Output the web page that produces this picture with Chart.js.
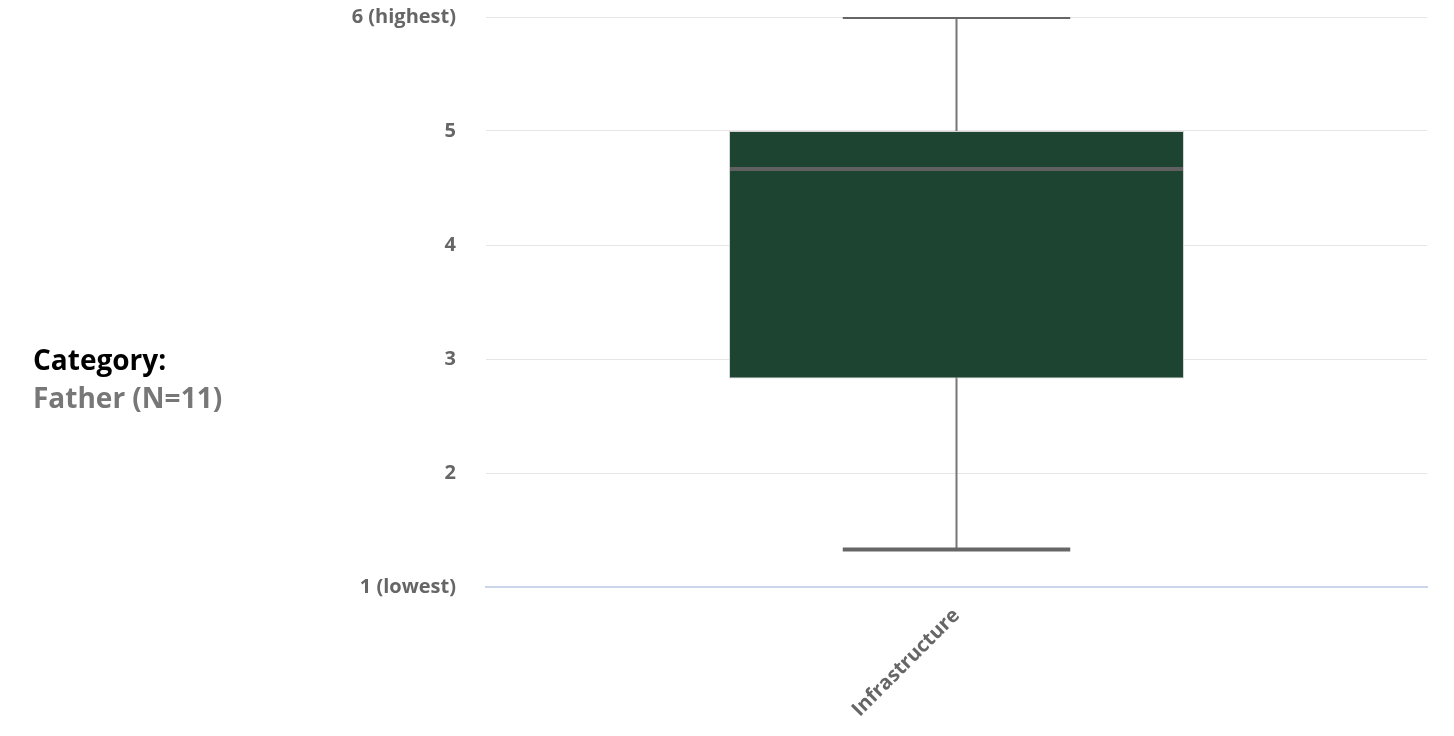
<!DOCTYPE html>
<html>
<head>
<meta charset="utf-8">
<script src="https://cdn.jsdelivr.net/npm/chart.js@4.4.1/dist/chart.umd.min.js"></script>
<style>
  html, body { margin: 0; padding: 0; background: #fff; }
  #wrap { position: relative; width: 1454px; height: 736px; }
  #c { position: absolute; left: 0; top: 0; }
  #side { position: absolute; left: 33px; top: 340px; font-family: "Open Sans", sans-serif; font-weight: 700; font-size: 28px; line-height: 38px; white-space: nowrap; }
  #side .k { color: #000; }
  #side .v { color: #777; }
</style>
</head>
<body>
<div id="wrap">
  <canvas id="c" width="1454" height="736"></canvas>
  <div id="side"><div class="k">Category:</div><div class="v">Father (N=11)</div></div>
</div>
<script>
const categories = ['Infrastructure'];
const whiskerLow = [1.33];
const q1 = [2.83];
const median = [4.67];
const q3 = [5.0];
const whiskerHigh = [6.0];
const yTickLabels = ['1 (lowest)', '2', '3', '4', '5', '6 (highest)'];

const FONT = '"Open Sans", sans-serif';

const whiskerPlugin = {
  id: 'whiskers',
  beforeDatasetsDraw(chart) {
    const { ctx, chartArea, scales: { y } } = chart;
    const meta = chart.getDatasetMeta(0);
    ctx.save();
    ctx.beginPath();
    ctx.rect(chartArea.left, chartArea.top, chartArea.right - chartArea.left, chartArea.bottom - chartArea.top);
    ctx.clip();
    meta.data.forEach((bar, i) => {
      ctx.strokeStyle = '#777777';
      ctx.lineWidth = 2;
      ctx.beginPath();
      ctx.moveTo(bar.x, y.getPixelForValue(whiskerHigh[i]));
      ctx.lineTo(bar.x, y.getPixelForValue(whiskerLow[i]));
      ctx.stroke();
    });
    ctx.restore();
  },
  afterDatasetsDraw(chart) {
    const { ctx, chartArea, scales: { y } } = chart;
    const meta = chart.getDatasetMeta(0);
    ctx.save();
    ctx.beginPath();
    ctx.rect(chartArea.left, chartArea.top, chartArea.right - chartArea.left, chartArea.bottom - chartArea.top);
    ctx.clip();
    meta.data.forEach((bar, i) => {
      const half = bar.width / 2;
      const capHalf = half / 2;
      ctx.strokeStyle = '#666666';
      ctx.lineWidth = 4;
      [whiskerHigh[i], whiskerLow[i]].forEach(v => {
        const py = y.getPixelForValue(v);
        ctx.beginPath();
        ctx.moveTo(bar.x - capHalf, py);
        ctx.lineTo(bar.x + capHalf, py);
        ctx.stroke();
      });
      ctx.strokeStyle = '#606060';
      ctx.lineWidth = 4;
      const my = Math.round(y.getPixelForValue(median[i]));
      ctx.beginPath();
      ctx.moveTo(bar.x - half + 1, my);
      ctx.lineTo(bar.x + half - 1, my);
      ctx.stroke();
    });
    ctx.restore();
  }
};

new Chart(document.getElementById('c'), {
  type: 'bar',
  data: {
    labels: categories,
    datasets: [{
      data: categories.map((_, i) => [q1[i], q3[i]]),
      backgroundColor: '#1d4331',
      borderColor: '#d4d4d4',
      borderWidth: 1,
      borderSkipped: false,
      categoryPercentage: 1,
      barPercentage: 0.4835
    }]
  },
  options: {
    responsive: false,
    animation: false,
    layout: { padding: { left: 0, right: 27, top: 17, bottom: 0 } },
    plugins: { legend: { display: false }, tooltip: { enabled: false } },
    scales: {
      x: {
        afterFit(scale) { scale.height = 149; scale.paddingTop = 0; },
        grid: { display: false, drawTicks: false },
        border: { display: true, color: '#ccd6eb', width: 2 },
        ticks: {
          color: '#666666',
          font: { family: FONT, size: 20, weight: 'bold' },
          minRotation: 45, maxRotation: 45,
          padding: 17
        }
      },
      y: {
        min: 1, max: 6,
        afterFit(scale) { scale.width = 486; scale.paddingTop = 0; scale.paddingBottom = 0; },
        grid: { color: '#e6e6e6', lineWidth: 1, drawTicks: false },
        border: { display: false },
        ticks: {
          stepSize: 1,
          color: '#666666',
          padding: 30,
          font: { family: FONT, size: 20, weight: 'bold' },
          callback: (v) => yTickLabels[v - 1]
        }
      }
    }
  },
  plugins: [whiskerPlugin]
});
</script>
</body>
</html>
